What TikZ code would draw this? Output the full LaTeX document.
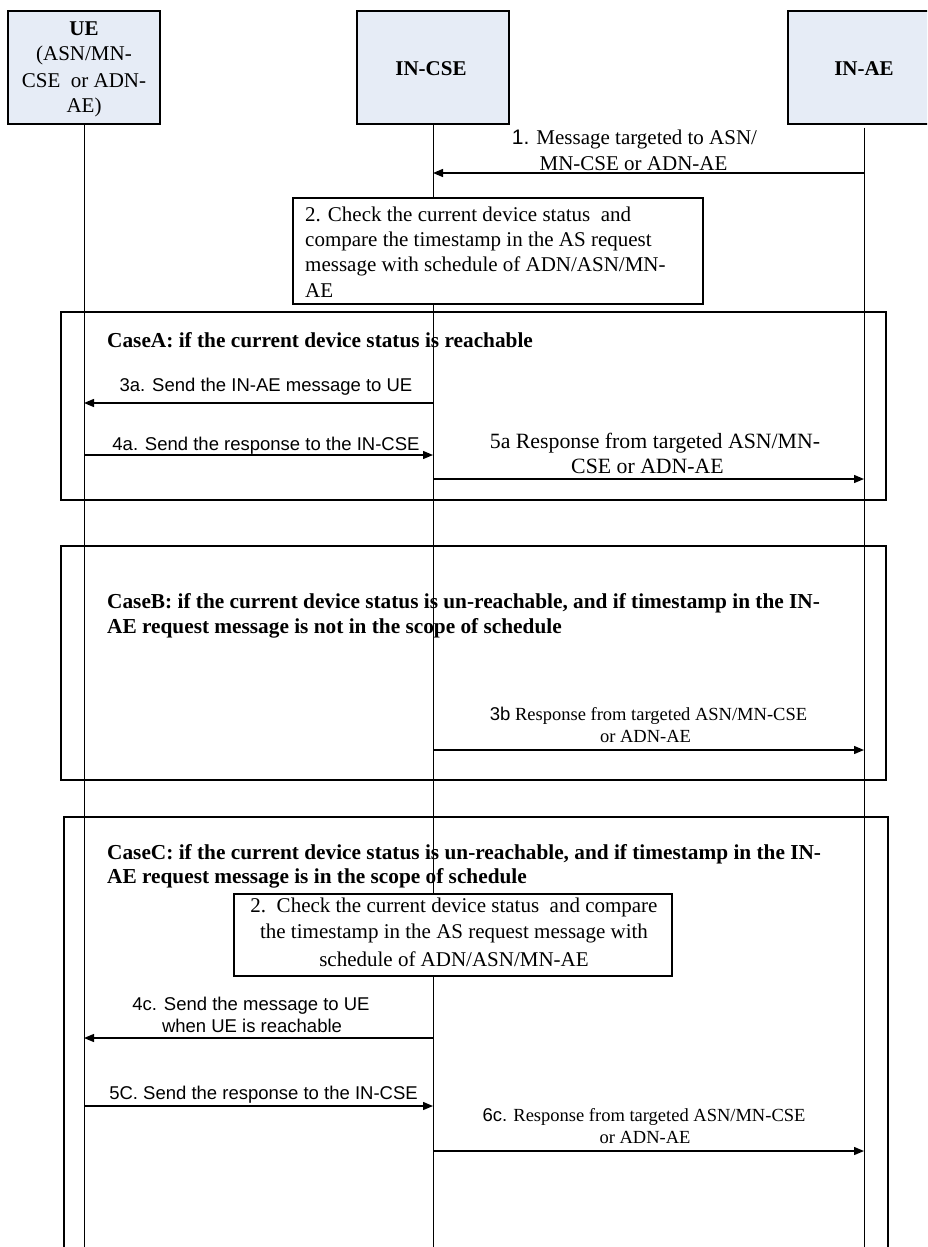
\documentclass[tikz,border=0pt]{standalone}
\usepackage{fontspec}
\setmainfont{Liberation Serif}
\newfontfamily\arialf{Liberation Sans}
\usetikzlibrary{arrows.meta}
\definecolor{hdrfill}{RGB}{230,236,246}
\begin{document}
\begin{tikzpicture}[x=1pt,y=-1pt,
  hdr/.style={draw, line width=1.2pt, fill=hdrfill, minimum width=152pt, minimum height=113pt, inner sep=0pt},
  note/.style={draw, line width=1.2pt, fill=white, inner sep=0pt},
  frame/.style={draw, line width=1.2pt, inner sep=0pt},
  life/.style={line width=0.9pt},
  msg/.style={line width=1.3pt, -{Triangle[length=10pt,width=8pt]}},
  sr/.style={font=\fontsize{21}{25}\selectfont, inner sep=0pt, anchor=base},
  srl/.style={font=\fontsize{21}{25}\selectfont, inner sep=0pt, anchor=base west},
  srbc/.style={font=\fontsize{21}{25}\selectfont\bfseries, inner sep=0pt, anchor=base},
  srb/.style={font=\fontsize{21.3}{25}\selectfont\bfseries, inner sep=0pt, anchor=base west},
  sa/.style={font=\arialf\fontsize{18.5}{22}\selectfont, inner sep=0pt, anchor=base},
  ss/.style={font=\fontsize{18.5}{22}\selectfont, inner sep=0pt, anchor=base},
]
\clip (0,0) rectangle (927,1247);
\fill[white] (0,0) rectangle (927,1247);

% header boxes
\node[hdr] (ue) at (84,67.5) {};
\node[hdr] (cse) at (433,67.5) {};
\node[hdr] (ae) at (864,67.5) {};
\node[srbc] (uet1) at (84,36) {UE};
\node[sr] (uet2) at (84,61) {(ASN/MN-};
\node[sr] (uet3) at (84,87) {CSE\ \ or ADN-};
\node[sr] (uet4) at (84,112) {AE)};
\node[srbc] (cset) at (431,75) {IN-CSE};
\node[srbc] (aet) at (864,75) {IN-AE};

% frames
\node[frame, minimum width=825pt, minimum height=188pt] (caseA) at (473.5,406) {};
\node[frame, minimum width=825pt, minimum height=234pt] (caseB) at (473.5,663) {};
\node[frame, minimum width=824pt, minimum height=483pt] (caseC) at (476,1058.5) {};

% lifelines
\coordinate (ueend) at (84,1247);
\coordinate (cseend) at (433,1247);
\coordinate (aeend) at (864,1247);
\draw[life] (ue.south) -- (ueend);
\draw[life] (cse.south) -- (cseend);
\draw[life] ([yshift=-3pt]ae.south) -- (aeend);

% step 1
\draw[msg] (ae.south |- 0,173) -- (cse.south |- 0,173);
\node[sr] (m1a) at (634.5,144) {{\arialf 1.} Message targeted to ASN/};
\node[sr] (m1b) at (633.5,170) {MN-CSE or ADN-AE};

% step 2 box
\node[note, minimum width=410pt, minimum height=106pt] (chk) at (498,251) {};
\node[srl] (chk1) at (305,221) {2. Check the current device status\ \ and};
\node[srl] (chk2) at (305,246) {compare the timestamp in the AS request};
\node[srl] (chk3) at (305,271) {message with schedule of ADN/ASN/MN-};
\node[srl] (chk4) at (305,297) {AE};

% Case A
\node[srb] (cat) at (107,347) {CaseA: if the current device status is reachable};
\node[sa] (l3a) at (266,391) {3a. Send the IN-AE message to UE};
\draw[msg] (cse.south |- 0,403) -- (ue.south |- 0,403);
\node[sa] (l4a) at (266,450) {4a. Send the response to the IN-CSE};
\draw[msg] (ue.south |- 0,455) -- (cse.south |- 0,455);
\node[sr, font=\fontsize{21.8}{25}\selectfont] (l5a1) at (655,448) {5a Response from targeted ASN/MN-};
\node[sr, font=\fontsize{21.8}{25}\selectfont] (l5a2) at (647.5,473) {CSE or ADN-AE};
\draw[msg] (cse.south |- 0,479) -- (ae.south |- 0,479);

% Case B
\node[srb] (cbt1) at (107,608) {CaseB: if the current device status is un-reachable, and if timestamp in the IN-};
\node[srb] (cbt2) at (107,633) {AE request message is not in the scope of schedule};
\node[ss] (l3b1) at (648.5,720) {{\arialf 3b} Response from targeted ASN/MN-CSE};
\node[ss] (l3b2) at (645.5,742) {or ADN-AE};
\draw[msg] (cse.south |- 0,750) -- (ae.south |- 0,750);

% Case C
\node[srb] (cct1) at (107,859) {CaseC: if the current device status is un-reachable, and if timestamp in the IN-};
\node[srb] (cct2) at (107,883) {AE request message is in the scope of schedule};
\node[note, minimum width=438pt, minimum height=82pt] (chk2box) at (453,935) {};
\node[sr] (c2a) at (454,912) {2.\ \ Check the current device status\ \ and compare};
\node[sr] (c2b) at (454,938) {the timestamp in the AS request message with};
\node[sr] (c2c) at (454,966) {schedule of ADN/ASN/MN-AE};
\node[sa] (l4c1) at (251,1010) {4c. Send the message to UE};
\node[sa] (l4c2) at (252,1032) {when UE is reachable};
\draw[msg] (cse.south |- 0,1038) -- (ue.south |- 0,1038);
\node[sa] (l5c) at (263.5,1099) {5C. Send the response to the IN-CSE};
\draw[msg] (ue.south |- 0,1106) -- (cse.south |- 0,1106);
\node[ss] (l6c1) at (644,1121) {{\arialf 6c.} Response from targeted ASN/MN-CSE};
\node[ss] (l6c2) at (645,1143) {or ADN-AE};
\draw[msg] (cse.south |- 0,1151) -- (ae.south |- 0,1151);
\end{tikzpicture}
\end{document}
